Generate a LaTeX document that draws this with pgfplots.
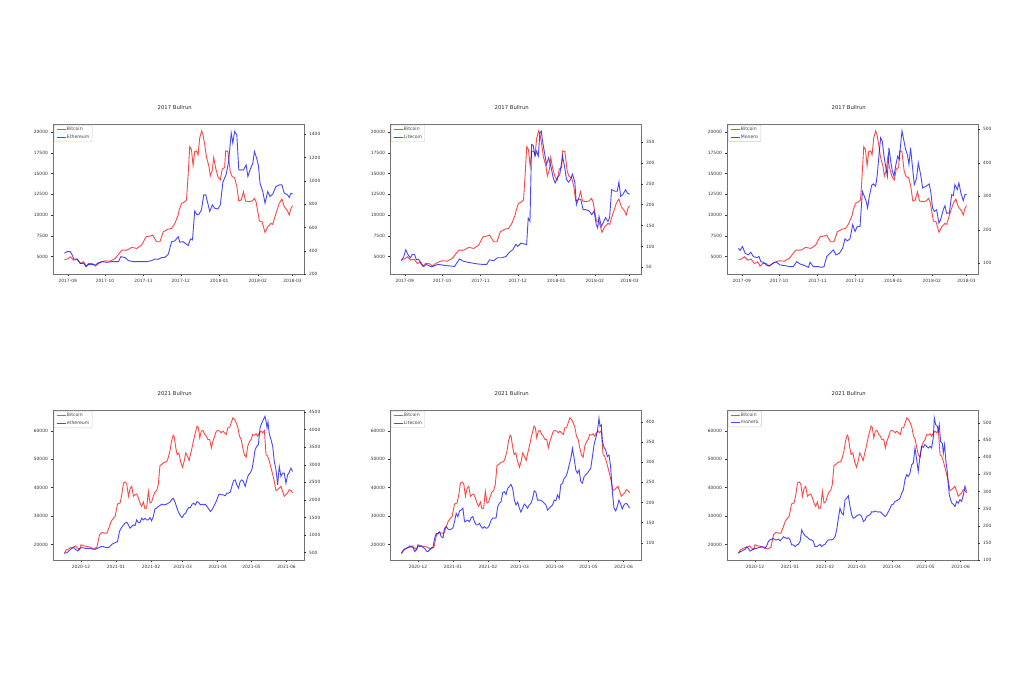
\documentclass[border=0pt]{standalone}
\usepackage{fontspec}
\setmainfont{DejaVu Sans}
\usepackage{pgfplots}
\usepackage{pgfplotstable}
\pgfplotsset{compat=1.18}
\definecolor{btcred}{RGB}{255,0,0}
\definecolor{altblue}{RGB}{0,0,255}
\newcommand{\tf}{\fontsize{4.4}{5.2}\selectfont}
\newcommand{\lf}{\fontsize{4.6}{5.4}\selectfont}
\newcommand{\ttf}{\fontsize{5.3}{6.3}\selectfont}

\pgfplotstableread{
d v
-2.7 4637
-0.5 4677
2.1 4960
4.8 4556
7.5 4677
10.1 4153
12.8 4355
14.7 3831
16.8 4153
19.5 4153
22.2 3831
24.8 4153
27.5 4355
30.2 4476
34.2 4435
38.2 4758
40.8 5242
43.5 5766
47.5 5766
51.5 6089
55.5 5968
59.5 6371
63.0 7379
66.2 7460
68.3 7580
71.5 6774
74.2 6774
76.9 7984
80.9 8306
83.6 8387
86.2 8992
88.9 10000
89.7 10605
91.6 11411
93.4 11532
95.6 11814
96.9 14838
98.2 18265
99.6 17862
100.9 15967
102.2 17660
103.6 17741
104.9 17257
106.2 19273
107.8 20160
108.9 19676
110.3 18467
111.6 17056
113.7 15846
114.8 14717
116.4 15443
117.5 16935
119.1 15644
120.9 14636
122.8 14233
124.4 15564
126.3 15725
127.1 17741
128.9 17660
130.8 15241
132.4 14636
134.3 14516
136.1 13427
137.7 11693
139.6 11814
141.5 12822
143.1 11693
145.8 11612
148.4 11693
150.3 12016
151.6 11612
154.3 9274
156.4 9193
158.8 7903
161.0 8588
163.6 8992
165.0 8871
167.6 10201
170.3 11411
172.4 11935
174.3 11008
177.0 10484
178.3 10000
179.7 10806
181.0 11129
}\btcA

\pgfplotstableread{
d v
-2.7 378
-0.5 392
2.1 392
3.5 364
4.8 329
7.5 329
10.1 292
12.8 292
14.7 263
16.8 283
19.5 283
22.2 277
24.8 298
27.5 306
31.5 300
35.5 306
40.8 306
42.7 349
46.2 341
48.9 315
52.9 306
56.9 306
59.5 306
63.5 306
67.5 315
70.2 329
72.9 326
75.5 341
78.2 343
80.9 369
83.6 478
86.2 484
88.9 521
90.2 473
92.9 478
95.6 455
96.9 444
98.8 501
100.4 493
102.2 742
104.1 708
105.7 714
107.6 751
109.5 880
111.1 880
112.4 823
114.3 737
116.4 794
118.3 765
120.9 759
122.8 794
124.9 989
127.6 1058
129.5 1167
131.6 1411
132.9 1325
134.3 1425
136.1 1396
137.7 1095
139.6 1095
141.5 1095
143.6 1138
145.0 1038
146.8 1095
149.0 1153
150.3 1253
152.2 1190
153.5 1132
154.8 980
157.0 909
158.8 808
161.0 909
162.8 866
165.0 886
167.6 952
170.3 966
172.4 966
174.3 894
177.0 880
178.3 857
179.7 894
181.0 889
}\ethA

\pgfplotstableread{
d v
-2.7 65
-0.8 76
0.8 92
2.6 80
4.5 73
6.1 81
8.0 80
9.3 68
11.2 69
13.3 57
15.2 52
17.4 57
19.5 54
21.4 51
24.0 54
26.7 57
29.4 56
33.4 54
37.4 53
40.1 52
42.0 61
44.1 70
46.8 65
50.8 62
54.8 60
58.8 58
62.8 57
66.0 57
68.2 68
71.4 66
74.8 73
78.3 73
81.5 76
84.2 86
86.9 92
89.5 105
90.9 100
93.6 108
96.2 106
98.1 104
99.4 168
100.8 160
102.1 344
103.4 342
104.8 316
106.1 328
107.5 316
108.8 372
109.9 376
110.9 352
112.5 324
114.1 296
115.8 312
117.6 292
119.5 264
121.1 252
123.0 265
124.8 272
127.0 316
128.6 292
130.2 260
131.8 254
133.4 260
135.0 273
136.9 254
138.2 200
139.8 214
141.7 212
143.6 188
145.7 188
148.4 185
150.5 176
152.4 185
154.2 152
155.3 144
156.4 172
158.3 148
159.6 156
161.7 169
163.6 160
164.9 168
166.5 236
169.2 232
171.1 232
172.4 254
173.8 220
175.6 224
177.8 236
179.1 228
181.0 225
}\ltcA

\pgfplotstableread{
d v
-2.7 145
-1.4 138
0.5 150
2.7 130
5.3 125
7.2 133
9.4 120
12.1 117
13.9 120
15.3 105
17.4 103
19.6 95
21.4 92
24.1 97
26.0 103
28.1 103
30.8 95
34.8 93
38.9 90
41.5 90
44.2 105
46.9 98
50.9 93
53.6 88
55.0 103
57.6 90
61.7 90
64.3 88
66.2 90
68.4 120
71.0 130
73.7 140
75.9 125
78.6 130
81.2 145
83.1 173
85.0 167
87.1 173
89.3 215
91.2 195
93.0 210
95.2 210
97.1 315
98.7 300
100.0 287
101.3 265
102.7 300
104.6 333
105.9 337
107.8 330
109.1 365
110.5 425
111.8 475
113.1 465
114.5 420
115.8 390
117.2 360
118.5 445
119.9 405
121.2 375
122.5 360
124.1 395
125.5 420
126.8 410
127.9 455
129.0 495
130.6 465
131.9 440
133.3 425
134.6 395
135.9 445
137.5 385
138.9 335
140.8 355
142.1 400
144.0 365
145.6 325
148.3 330
150.9 337
152.3 310
153.6 265
155.0 255
156.9 260
158.7 220
160.1 230
162.2 260
163.6 272
164.9 250
167.1 250
169.0 305
170.3 302
171.6 335
173.5 320
174.8 340
176.4 310
178.3 287
179.7 305
181.0 305
}\xmrA

\pgfplotstableread{
d v
-14.7 16942
-12.9 18118
-10.9 18471
-8.8 18942
-6.5 19059
-5.0 19530
-2.9 18706
-1.2 18118
0 19882
2.3 19530
5.3 19294
8.2 19059
11.2 18354
14.1 19059
16.4 23410
18.5 24234
20.5 24000
22.9 24000
24.9 25998
26.7 28114
28.8 29290
30.2 29878
32.3 34230
34.6 34582
36.1 37522
37.6 41638
39.0 41991
40.5 41286
42.0 36934
43.4 39639
44.9 40462
46.4 36934
47.8 37522
49.3 37758
50.8 36346
52.2 34582
53.7 33406
55.2 34935
56.6 32583
58.1 32818
59.6 38698
61.1 34582
62.5 34935
64.0 36934
65.5 38463
66.9 38934
68.4 41050
69.9 47754
71.3 48106
72.8 48694
74.3 49047
75.7 49047
77.2 50458
78.7 52810
80.1 56338
81.6 58455
82.5 57750
83.9 53986
85.1 51634
86.6 52222
88.1 49282
89.8 47166
91.3 49282
92.7 52222
94.2 51046
95.7 49518
97.2 52222
98.6 54574
100.1 57514
101.6 59866
102.7 61630
103.9 61042
105.1 57514
106.5 59866
108.0 60102
109.5 58690
110.9 58102
112.4 56926
113.9 56926
115.4 53986
116.8 56338
118.3 58102
119.8 59866
121.2 60102
122.7 59866
124.2 59278
125.6 59866
127.1 59278
128.6 58690
130.0 61042
131.5 61042
133.0 62806
134.4 64570
135.9 63982
137.4 62806
138.8 61278
140.3 58102
141.8 56926
143.2 53986
144.7 51399
146.2 50694
147.6 54574
149.1 56103
150.6 56926
152.0 58690
153.5 58455
155.0 58926
156.4 58102
157.9 59278
159.4 59866
160.8 59278
162.3 60102
163.8 51634
165.2 51046
166.7 49282
168.2 46930
169.7 44578
171.1 42226
172.6 38934
174.1 39286
175.5 39874
177.0 40462
178.5 38698
179.9 36934
181.4 37522
182.9 38110
184.3 39286
185.8 38934
187.3 38110
}\btcB

\pgfplotstableread{
d v
-14.7 481
-12.3 500
-10.9 548
-8.8 605
-6.5 652
-5.0 595
-2.9 548
-1.2 624
0.9 643
3.8 624
6.8 624
9.7 605
12.6 595
15.6 643
18.5 681
21.4 652
24.4 643
27.3 738
30.2 785
32.3 814
34.0 1099
35.5 1194
37.6 1289
39.0 1337
40.5 1365
42.0 1289
43.4 1194
44.9 1241
46.4 1289
47.8 1270
49.3 1432
50.8 1356
52.2 1356
53.7 1479
55.2 1432
56.6 1479
58.1 1432
59.6 1432
61.1 1498
62.5 1403
64.0 1527
65.5 1745
66.9 1764
68.4 1812
69.9 1840
71.3 1878
72.8 1859
75.7 1878
78.7 1935
80.1 2002
81.6 2049
83.1 1954
84.5 1812
86.0 1669
87.5 1574
89.5 1498
91.3 1593
92.7 1622
93.9 1717
95.4 1783
96.9 1783
98.3 1878
99.8 1907
101.3 1859
102.7 1954
104.2 1926
105.7 1859
107.1 1878
108.6 1859
110.1 1878
111.5 1812
113.0 1745
114.5 1669
115.9 1717
117.4 1812
118.9 1907
120.3 2002
121.8 2145
123.3 2164
124.7 2145
126.2 2145
127.7 2116
129.1 2192
130.6 2192
132.1 2221
133.5 2382
135.0 2544
136.5 2572
137.9 2430
139.4 2335
140.9 2525
142.4 2572
143.8 2525
145.3 2382
146.8 2572
148.2 2715
149.7 2762
151.2 2857
152.6 3095
154.1 3428
155.6 3523
157.0 3570
158.5 4046
160.0 4188
161.4 4283
162.9 4378
163.8 4236
164.7 4046
165.5 4217
166.7 3875
168.2 3713
169.7 3523
171.1 3095
172.6 2857
174.1 2430
175.5 2953
177.0 2667
178.5 2762
179.9 2762
181.4 2477
182.9 2715
184.3 2781
185.8 2905
187.3 2810
}\ethB

\pgfplotstableread{
d v
-14.7 73
-13.2 79
-11.8 84
-10.3 86
-8.8 88
-7.3 92
-5.9 90
-4.4 88
-2.9 78
-1.5 83
0.0 93
1.5 90
2.9 92
4.4 88
5.9 86
7.4 79
8.8 78
10.3 82
11.8 88
13.2 88
14.7 111
16.2 123
17.6 122
19.1 127
20.6 115
22.1 112
23.5 136
25.0 140
26.5 134
27.9 132
29.4 134
30.9 137
32.3 152
33.8 173
35.3 165
36.8 179
38.2 181
39.7 186
41.2 152
42.6 154
44.1 156
45.6 152
47.0 162
48.5 165
50.0 152
51.5 144
52.9 144
54.4 148
55.9 140
57.3 136
58.8 140
60.3 136
61.7 137
63.2 144
64.7 156
66.2 161
67.6 161
69.1 162
70.6 190
72.0 198
73.5 202
75.0 225
76.4 227
77.9 220
79.4 235
80.9 240
82.3 245
83.8 235
85.3 206
86.7 194
88.2 201
89.7 186
91.1 176
92.6 186
94.1 196
95.6 192
97.0 186
98.5 194
100.0 198
101.4 210
102.9 229
104.4 225
105.8 206
107.3 206
108.8 206
110.3 202
111.7 198
113.2 194
114.7 181
116.1 186
117.6 190
119.1 194
120.6 206
122.0 204
123.5 219
125.0 210
126.4 244
127.9 248
129.4 260
130.8 264
132.3 275
133.8 294
135.3 310
136.7 335
138.2 310
139.7 281
141.1 273
142.6 281
144.1 252
145.5 248
147.0 264
148.5 269
150.0 273
151.4 279
152.9 285
154.4 314
155.8 343
157.3 360
158.8 377
160.2 410
161.1 389
162.3 393
163.2 352
164.7 337
166.1 331
167.6 314
169.1 318
170.5 289
172.0 227
173.5 186
175.0 179
176.4 190
177.9 206
179.4 196
180.8 184
182.3 194
183.8 198
185.2 196
187.3 186
}\ltcB

\pgfplotstableread{
d v
-14.7 120
-13.2 124
-11.8 126
-10.3 129
-8.8 131
-7.3 139
-5.9 134
-4.4 126
-2.9 129
-1.4 132
0.0 134
1.5 134
3.0 136
4.5 137
6.0 139
7.4 136
8.9 134
10.4 142
11.8 154
13.3 159
14.8 161
16.3 163
17.7 159
19.2 159
20.7 161
22.2 156
23.6 161
25.1 168
26.6 165
28.1 163
29.5 165
31.0 159
32.5 144
34.0 144
35.4 139
36.9 144
38.4 146
39.9 154
41.3 188
42.8 178
44.3 171
45.8 168
47.2 163
48.7 159
50.2 159
51.7 154
53.1 139
54.6 139
56.1 142
57.6 146
59.0 139
60.5 144
62.0 146
63.5 154
64.9 159
66.4 159
67.9 159
69.3 161
70.8 168
72.3 188
73.8 222
75.2 251
76.7 237
78.2 232
79.7 276
81.1 280
82.6 288
84.1 256
85.6 232
87.0 222
88.5 224
90.0 229
91.5 232
92.9 232
94.4 227
95.9 212
97.4 217
98.8 227
100.3 230
101.8 232
103.3 241
104.7 240
106.2 243
107.7 241
109.2 240
110.6 241
112.1 237
113.6 232
115.1 227
116.5 232
118.0 241
119.5 251
120.9 261
122.4 263
123.9 271
125.4 273
126.8 276
128.3 280
129.8 295
131.3 305
132.7 334
134.2 349
135.7 344
137.2 354
138.6 378
140.1 383
141.6 427
143.1 393
144.5 359
146.0 402
147.5 432
148.9 429
150.4 437
151.9 432
153.4 427
154.9 432
156.3 427
157.8 456
158.7 515
159.9 495
161.4 490
162.2 476
163.1 495
164.3 446
165.8 441
166.7 412
167.8 437
169.0 388
170.2 359
171.1 320
172.0 290
173.1 276
174.3 266
175.5 263
177.0 256
178.5 271
179.9 266
181.4 276
182.9 271
184.4 290
185.8 315
187.3 300
}\xmrB

\pgfplotsset{
  btc/.style={draw=btcred, draw opacity=0.72, line width=0.9pt},
  alt/.style={draw=altblue, draw opacity=0.72, line width=0.9pt},
  base/.style={
    scale only axis, width=251pt, height=150pt,
    axis line style={draw=black!55, line width=0.7pt},
    tick style={black!80, line width=0.4pt},
    major tick length=1.6pt, tick align=outside,
    ticklabel style={font=\tf, text=black!80},
    /pgf/number format/assume math mode=true,
    /pgf/number format/1000 sep={},
    scaled ticks=false, minor tick num=0,
  },
  toprow/.style={base, xmin=-11.9, xmax=190.2,
    xtick={0,30,61,91,122,153,181},
    xticklabels={2017-09,2017-10,2017-11,2017-12,2018-01,2018-02,2018-03},
    ymin=2880, ymax=20990},
  botrow/.style={base, xmin=-24.8, xmax=197.4,
    xtick={0,31,62,90,121,151,182},
    xticklabels={2020-12,2021-01,2021-02,2021-03,2021-04,2021-05,2021-06},
    ymin=14530, ymax=67300},
  main/.style={tick pos=left,
    title style={at={(0.485,1)}, anchor=center, yshift=10pt, font=\ttf, text=black!85}},
  twin/.style={hide x axis, axis line style={draw=none},
    ytick pos=right, yticklabel pos=right,
    legend cell align=left,
    legend image code/.code={\draw[##1] (0pt,0pt) -- (9pt,0pt);},
    legend style={at={(0.004,0.994)}, anchor=north west, font=\lf, text=black!75,
      draw=black!20, rounded corners=1pt, fill=white, fill opacity=0.8, text opacity=1,
      inner xsep=2pt, inner ysep=1.2pt, row sep=1.1pt,
      nodes={inner sep=0.8pt}}},
}

\begin{document}
\begin{tikzpicture}
\useasboundingbox (0pt,0pt) rectangle (1024pt,-683pt);

% ---------- top left ----------
\begin{axis}[toprow, main, at={(53pt,-274pt)}, anchor=south west, title={2017 Bullrun},
  ytick={5000,7500,10000,12500,15000,17500,20000}]
\addplot[btc] table {\btcA};
\end{axis}
\begin{axis}[toprow, twin, at={(53pt,-274pt)}, anchor=south west,
  ymin=200, ymax=1489, ytick={200,400,600,800,1000,1200,1400}]
\addlegendimage{btc}\addlegendentry{Bitcoin}
\addplot[alt] table {\ethA};\addlegendentry{Ethereum}
\end{axis}

% ---------- top middle ----------
\begin{axis}[toprow, main, at={(390pt,-274pt)}, anchor=south west, title={2017 Bullrun},
  ytick={5000,7500,10000,12500,15000,17500,20000}]
\addplot[btc] table {\btcA};
\end{axis}
\begin{axis}[toprow, twin, at={(390pt,-274pt)}, anchor=south west,
  ymin=34, ymax=393, ytick={50,100,150,200,250,300,350}]
\addlegendimage{btc}\addlegendentry{Bitcoin}
\addplot[alt] table {\ltcA};\addlegendentry{Litecoin}
\end{axis}

% ---------- top right ----------
\begin{axis}[toprow, main, at={(727pt,-274pt)}, anchor=south west, title={2017 Bullrun},
  ytick={5000,7500,10000,12500,15000,17500,20000}]
\addplot[btc] table {\btcA};
\end{axis}
\begin{axis}[toprow, twin, at={(727pt,-274pt)}, anchor=south west,
  ymin=68, ymax=516, ytick={100,200,300,400,500}]
\addlegendimage{btc}\addlegendentry{Bitcoin}
\addplot[alt] table {\xmrA};\addlegendentry{Monero}
\end{axis}

% ---------- bottom left ----------
\begin{axis}[botrow, main, at={(53pt,-560pt)}, anchor=south west, title={2021 Bullrun},
  ytick={20000,30000,40000,50000,60000}]
\addplot[btc] table {\btcB};
\end{axis}
\begin{axis}[botrow, twin, at={(53pt,-560pt)}, anchor=south west,
  ymin=291, ymax=4557, ytick={500,1000,1500,2000,2500,3000,3500,4000,4500}]
\addlegendimage{btc}\addlegendentry{Bitcoin}
\addplot[alt] table {\ethB};\addlegendentry{ethereum}
\end{axis}

% ---------- bottom middle ----------
\begin{axis}[botrow, main, at={(390pt,-560pt)}, anchor=south west, title={2021 Bullrun},
  ytick={20000,30000,40000,50000,60000}]
\addplot[btc] table {\btcB};
\end{axis}
\begin{axis}[botrow, twin, at={(390pt,-560pt)}, anchor=south west,
  ymin=57, ymax=430, ytick={100,150,200,250,300,350,400}]
\addlegendimage{btc}\addlegendentry{Bitcoin}
\addplot[alt] table {\ltcB};\addlegendentry{Litecoin}
\end{axis}

% ---------- bottom right ----------
\begin{axis}[botrow, main, at={(727pt,-560pt)}, anchor=south west, title={2021 Bullrun},
  ytick={20000,30000,40000,50000,60000}]
\addplot[btc] table {\btcB};
\end{axis}
\begin{axis}[botrow, twin, at={(727pt,-560pt)}, anchor=south west,
  ymin=100, ymax=538, ytick={100,150,200,250,300,350,400,450,500}]
\addlegendimage{btc}\addlegendentry{Bitcoin}
\addplot[alt] table {\xmrB};\addlegendentry{monero}
\end{axis}
\end{tikzpicture}
\end{document}
